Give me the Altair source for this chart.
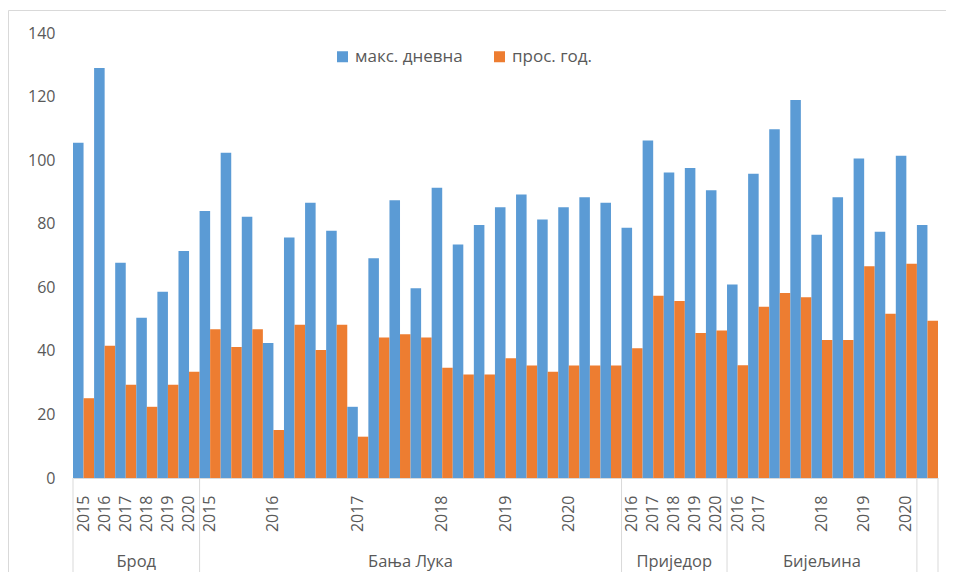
import json
import altair as alt
import pandas as pd

series_names = ["макс. дневна", "прос. год."]
series_colors = ["#5B9BD5", "#ED7D31"]

cities = ["Брод", "Бања Лука", "Приједор", "Бијељина", ""]
city_counts = [6, 20, 5, 9, 1]

year_labels = [
    "2015", "2016", "2017", "2018", "2019", "2020",
    "2015", "", "", "2016", "", "", "", "2017", "", "", "", "2018", "", "",
    "2019", "", "", "2020", "", "",
    "2016", "2017", "2018", "2019", "2020",
    "2016", "2017", "", "", "2018", "", "2019", "", "2020",
    "",
]

max_daily = [
    105.5, 129.0, 67.7, 50.4, 58.6, 71.4,
    84.0, 102.3, 82.2, 42.5, 75.7, 86.6, 77.8, 22.4, 69.1, 87.4,
    59.7, 91.3, 73.5, 79.6, 85.2, 89.2, 81.3, 85.2, 88.3, 86.6,
    78.7, 106.2, 96.1, 97.5, 90.5,
    60.9, 95.7, 109.7, 118.9, 76.5, 88.3, 100.5, 77.5, 101.4,
    79.6,
]

annual_avg = [
    25.1, 41.6, 29.3, 22.4, 29.3, 33.4,
    46.8, 41.2, 46.8, 15.1, 48.2, 40.3, 48.2, 13.0, 44.2, 45.2,
    44.2, 34.7, 32.6, 32.6, 37.7, 35.4, 33.4, 35.4, 35.4, 35.4,
    40.8, 57.3, 55.7, 45.6, 46.4,
    35.5, 53.9, 58.2, 56.9, 43.4, 43.4, 66.6, 51.7, 67.4,
    49.5,
]

y_ticks = [0, 20, 40, 60, 80, 100, 120, 140]

# ---- tables built from the lists ----
n = len(year_labels)
rows = []
for i in range(n):
    rows.append({"slot": i, "series": series_names[0], "value": max_daily[i]})
    rows.append({"slot": i, "series": series_names[1], "value": annual_avg[i]})
bars_df = pd.DataFrame(rows)

bounds = [0]
for c in city_counts:
    bounds.append(bounds[-1] + c)
city_df = pd.DataFrame({
    "city": cities,
    "mid": [(bounds[k] + bounds[k + 1]) / 2 for k in range(len(cities))],
})
bound_df = pd.DataFrame({"pos": bounds})

W, H = 865, 445
GRAY = "#595959"
LINE = "#d9d9d9"

label_expr = "%s[datum.value]" % json.dumps(year_labels, ensure_ascii=False)

bars = alt.Chart(bars_df).mark_bar().encode(
    x=alt.X(
        "slot:O",
        scale=alt.Scale(paddingInner=0, paddingOuter=0),
        axis=alt.Axis(
            title=None,
            labelExpr=label_expr,
            labelAngle=270,
            labelAlign="right",
            labelBaseline="middle",
            labelPadding=17,
            labelFontSize=16,
            labelColor=GRAY,
            labelOverlap=False,
            labelFlush=False,
            ticks=False,
            tickSize=0,
            domainColor=LINE,
            domainWidth=1,
            grid=False,
        ),
    ),
    xOffset=alt.XOffset(
        "series:N",
        sort=series_names,
        scale=alt.Scale(domain=series_names, paddingInner=0, paddingOuter=0),
    ),
    y=alt.Y(
        "value:Q",
        scale=alt.Scale(domain=[0, 140], nice=False),
        axis=alt.Axis(
            title=None,
            values=y_ticks,
            grid=False,
            domain=False,
            ticks=False,
            labelPadding=18,
            labelFontSize=16,
            labelColor=GRAY,
        ),
    ),
    color=alt.Color(
        "series:N",
        sort=series_names,
        scale=alt.Scale(domain=series_names, range=series_colors),
        legend=alt.Legend(
            title=None,
            orient="none",
            legendX=261,
            legendY=15,
            direction="horizontal",
            symbolType="square",
            symbolSize=121,
            symbolStrokeWidth=0,
            labelFontSize=17,
            labelColor=GRAY,
            labelOffset=4,
            columnPadding=28,
        ),
    ),
)

xq = alt.Scale(domain=[0, n], nice=False, zero=False)

dividers = alt.Chart(bound_df).mark_rule(color=LINE, strokeWidth=1).encode(
    x=alt.X("pos:Q", scale=xq, axis=None),
    y=alt.value(H),
    y2=alt.value(H + 100),
)

city_text = alt.Chart(city_df).mark_text(
    fontSize=16.5, color=GRAY, baseline="middle", align="center"
).encode(
    x=alt.X("mid:Q", scale=xq, axis=None),
    y=alt.value(H + 84),
    text="city:N",
)

frame_df = pd.DataFrame({"k": [0]})
frame_top = alt.Chart(frame_df).mark_rule(color=LINE, strokeWidth=1).encode(
    x=alt.value(-64.5), x2=alt.value(W + 8), y=alt.value(-22.5)
)
frame_left = alt.Chart(frame_df).mark_rule(color=LINE, strokeWidth=1).encode(
    x=alt.value(-64.5), y=alt.value(-22.5), y2=alt.value(H + 100)
)

chart = (
    alt.layer(bars, dividers, city_text, frame_top, frame_left)
    .resolve_scale(x="independent")
    .properties(
        width=W,
        height=H,
        autosize=alt.AutoSizeParams(type="none"),
        padding={"left": 65, "top": 25, "right": 8, "bottom": 94},
    )
    .configure(font="Open Sans")
    .configure_view(strokeWidth=0)
)

chart.save("out.html", embed_options={"renderer": "svg", "actions": False})
